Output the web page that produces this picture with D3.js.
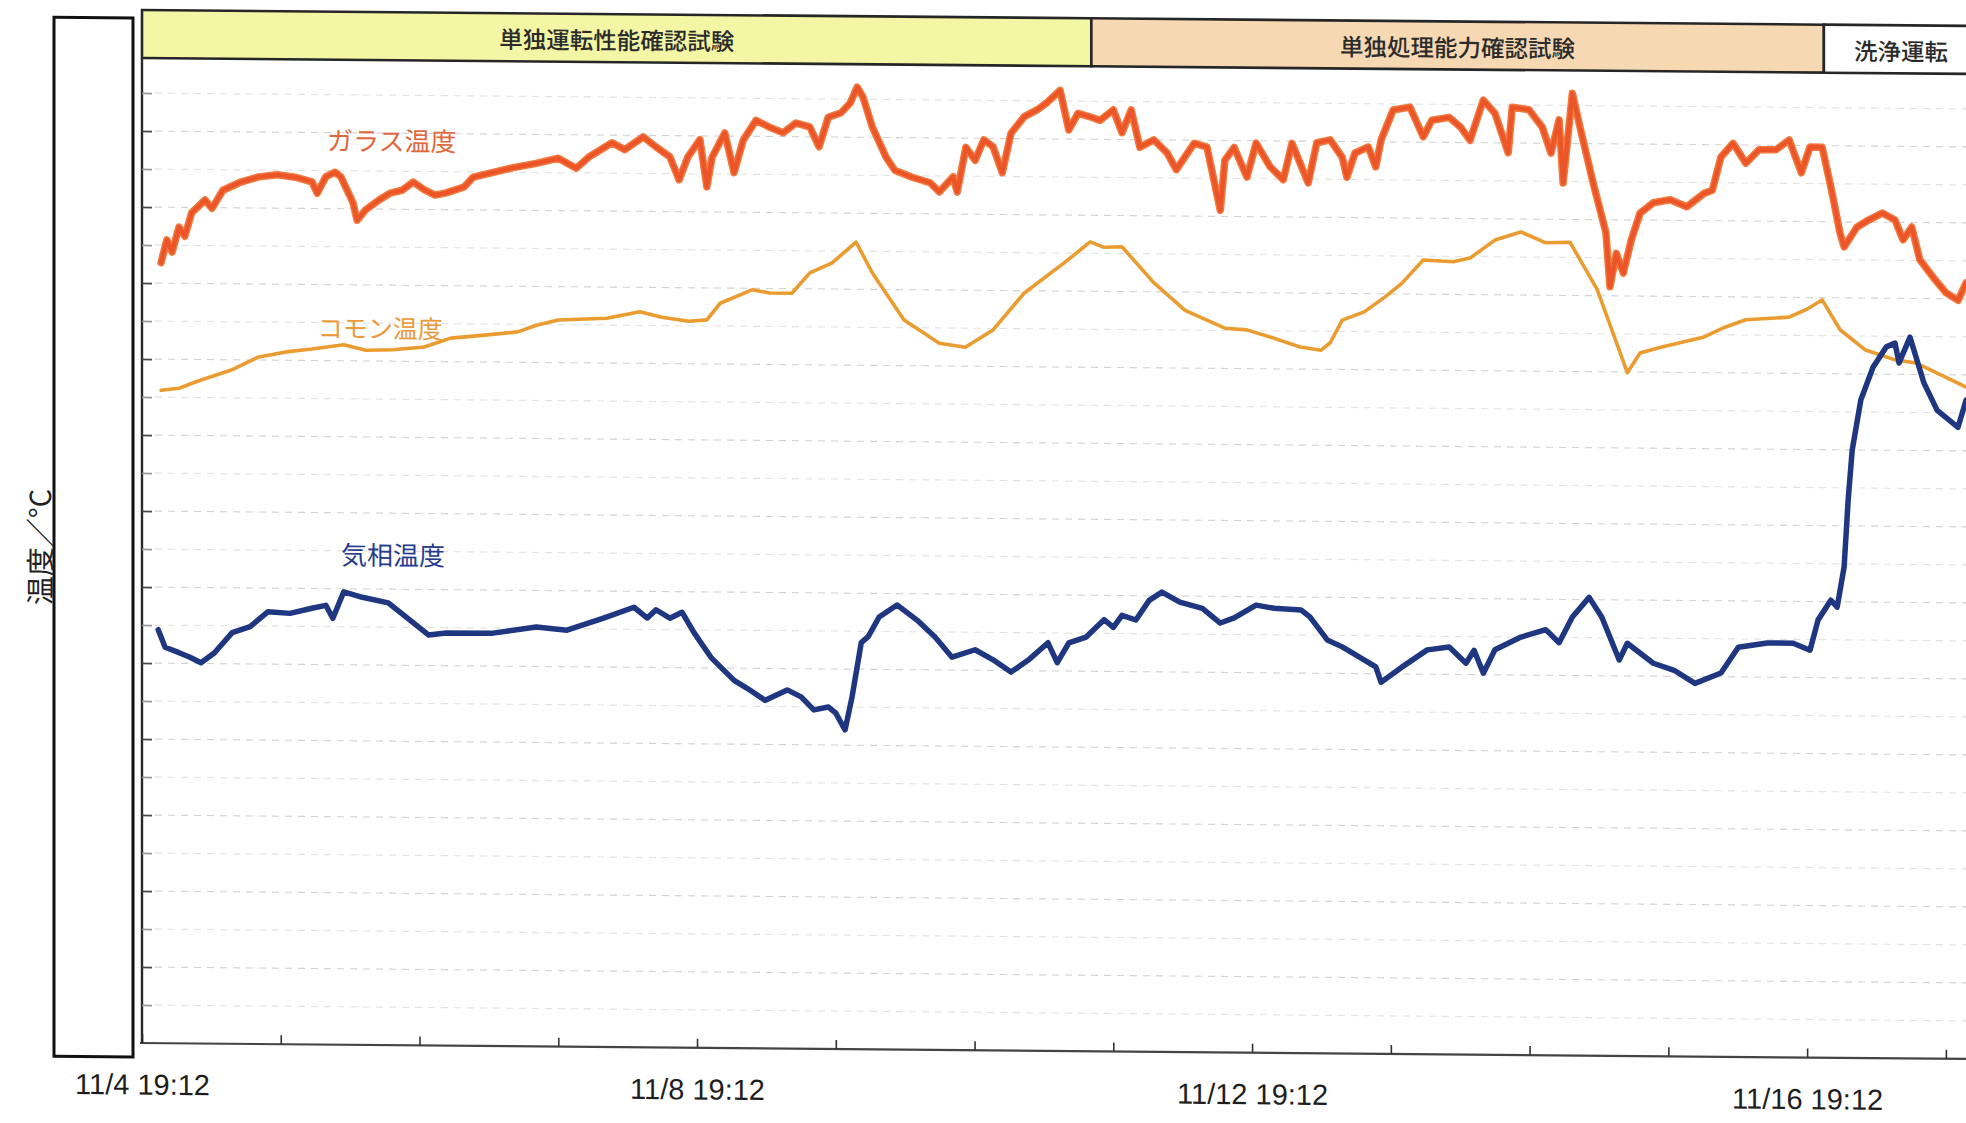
<!DOCTYPE html>
<html>
<head>
<meta charset="utf-8">
<script src="https://cdn.jsdelivr.net/npm/d3@7"></script>
<style>
  html, body { margin: 0; padding: 0; background: #fff; }
  svg { display: block; }
</style>
</head>
<body>
<svg id="chart" width="1966" height="1123"></svg>
<script>
// ---- data: [hours since 11/4 19:12, °C] ----
const glassSeries = [
  [3.3,1027],[4.3,1057],[5.2,1041],[6.4,1074],[7.4,1062],[8.6,1093],[10.9,1110],[12.1,1099],
  [14.0,1123],[17.1,1134],[20.2,1141],[23.4,1144],[26.5,1141],[29.4,1135],[30.3,1120],[31.8,1142],
  [33.4,1148],[34.4,1142],[36.5,1108],[37.2,1085],[38.7,1099],[41.0,1112],[42.9,1121],[45.0,1125],
  [46.9,1136],[48.8,1126],[50.7,1119],[52.6,1122],[55.7,1130],[57.3,1143],[60.4,1149],[64.2,1156],
  [68.2,1162],[72.0,1169],[75.1,1156],[77.3,1171],[81.3,1190],[83.5,1181],[86.7,1198],[88.9,1185],
  [91.3,1172],[92.9,1142],[94.4,1172],[96.5,1195],[97.7,1133],[98.6,1172],[100.8,1204],[102.4,1152],
  [104.0,1195],[106.2,1221],[108.6,1212],[110.9,1205],[113.1,1218],[115.5,1213],[117.1,1187],[118.7,1226],
  [120.9,1232],[122.5,1245],[123.7,1266],[124.7,1253],[126.3,1214],[128.7,1174],[130.2,1157],[133.2,1148],
  [136.3,1141],[137.9,1129],[140.3,1149],[141.0,1129],[142.5,1188],[144.1,1171],[145.6,1198],[147.2,1189],
  [148.8,1155],[150.3,1207],[152.6,1229],[154.8,1238],[156.4,1247],[158.8,1264],[160.3,1212],[161.9,1234],
  [164.2,1229],[165.7,1225],[168.0,1239],[169.5,1209],[171.1,1239],[172.6,1190],[175.0,1200],[177.3,1183],
  [178.9,1161],[180.4,1178],[182.0,1196],[184.2,1191],[186.5,1108],[187.3,1174],[188.9,1191],[191.1,1152],
  [192.7,1197],[195.1,1166],[197.4,1149],[198.9,1197],[200.3,1171],[201.7,1145],[203.2,1198],[205.5,1202],
  [207.6,1179],[208.4,1153],[209.8,1185],[212.1,1193],[213.4,1167],[214.3,1202],[216.4,1242],[219.3,1246],
  [221.6,1207],[223.1,1229],[226.1,1233],[228.1,1220],[229.7,1203],[232.0,1256],[234.0,1239],[236.3,1187],
  [237.0,1247],[239.9,1244],[242.2,1221],[243.7,1187],[245.1,1231],[245.8,1148],[247.4,1266],[248.7,1222],
  [251.0,1148],[253.2,1083],[253.9,1012],[255.0,1056],[256.2,1030],[257.6,1074],[259.1,1109],[261.4,1123],
  [264.3,1127],[267.2,1118],[270.2,1136],[271.6,1140],[273.1,1184],[275.2,1202],[277.4,1176],[279.7,1194],
  [282.6,1194],[284.9,1207],[287.0,1164],[288.5,1198],[290.6,1198],[292.1,1146],[293.7,1085],[294.4,1067],
  [296.6,1093],[298.7,1103],[301.0,1112],[303.2,1103],[304.6,1077],[306.1,1094],[307.5,1051],[309.8,1028],
  [312.0,1008],[314.1,998],[315.5,1021]
];

const commonSeries = [
  [3.3,859],[6.4,862],[10.2,873],[15.6,887],[20.2,904],[24.9,911],[29.4,915],[34.9,921],
  [38.7,914],[43.4,915],[48.8,919],[53.4,931],[58.8,935],[65.0,940],[68.2,949],[72.0,956],
  [80.4,959],[86.1,968],[89.9,961],[94.6,956],[97.7,958],[100.0,980],[105.5,998],[108.6,994],
  [112.4,994],[115.5,1021],[119.3,1034],[123.5,1062],[126.3,1022],[131.8,960],[137.9,930],[142.4,925],
  [147.2,948],[152.6,997],[159.5,1037],[164.0,1065],[166.4,1058],[169.5,1059],[175.0,1012],[180.4,976],
  [187.3,953],[191.1,951],[195.1,942],[200.3,929],[203.9,925],[205.5,935],[207.6,965],[211.4,976],
  [215.0,996],[217.9,1014],[221.6,1045],[226.8,1043],[229.7,1048],[234.0,1072],[238.5,1083],[242.8,1069],
  [247.0,1070],[251.7,1008],[256.9,899],[259.1,925],[262.7,933],[270.2,947],[273.8,960],[277.4,970],
  [284.9,974],[287.8,984],[290.6,997],[293.7,958],[298.0,932],[303.2,919],[306.9,915],[310.5,902],
  [315.5,884]
];

const gasSeries = [
  [2.8,544],[4.0,521],[6.4,514],[8.3,508],[10.2,501],[12.5,514],[15.6,541],[18.7,549],
  [21.8,569],[25.6,567],[29.4,574],[31.8,578],[33.0,561],[34.9,596],[38.1,589],[42.6,582],
  [49.6,540],[52.6,543],[60.4,543],[68.2,552],[73.5,548],[79.7,564],[85.1,579],[87.4,565],
  [88.9,576],[91.3,565],[93.4,573],[95.5,546],[98.4,514],[102.4,484],[104.6,474],[107.8,458],
  [111.6,472],[114.0,463],[116.2,446],[118.7,450],[120.0,442],[121.6,420],[122.8,463],[124.4,535],
  [125.6,543],[127.5,569],[130.6,585],[134.1,565],[137.2,543],[140.1,517],[144.1,527],[147.2,514],
  [150.3,498],[153.3,514],[156.7,537],[158.3,511],[160.3,537],[163.3,545],[166.4,568],[168.0,558],
  [169.5,574],[171.9,568],[174.2,594],[176.4,605],[179.5,592],[183.4,584],[186.5,565],[188.9,572],
  [192.7,589],[195.8,585],[200.5,583],[202.0,574],[205.0,544],[207.6,535],[213.4,509],[214.3,489],
  [217.9,509],[222.3,532],[226.1,536],[229.0,515],[230.4,532],[232.0,502],[234.0,533],[238.5,550],
  [242.8,560],[245.1,543],[247.4,577],[250.3,603],[252.5,577],[255.5,521],[256.9,543],[261.4,517],
  [265.0,508],[268.6,491],[273.1,505],[276.1,539],[281.1,545],[285.6,545],[288.5,536],[289.9,576],
  [292.1,602],[293.2,593],[294.4,646],[295.1,734],[295.8,800],[297.3,866],[299.4,909],[301.7,936],
  [303.2,941],[303.9,915],[305.8,949],[308.2,889],[310.5,853],[314.1,831],[315.5,867]
];

// operation phases shown in the header band (start hour of each, last end hour)
const phaseNames  = ["単独運転性能確認試験", "単独処理能力確認試験", "洗浄運転"];
const phaseStarts = [0, 164.2, 290.9];
const phaseEnd    = 317.6;
const phaseFills  = ["#f3f6a4", "#f6d8b3", "#ffffff"];

// series labels
const seriesNames  = ["ガラス温度", "コモン温度", "気相温度"];
const seriesColors = ["#ec5528", "#eb9c30", "#1f3680"];
const labelAnchors = [[43.2, 1192], [41.2, 945], [43.4, 647]];

const dayTickCount = 14;        // daily ticks from 11/4 19:12
const labelEvery   = 4;         // date label every 4 days
const tempStep     = 50;        // gridline spacing, °C

// ---- scales ----
const HOUR  = 3600e3;
const START = new Date(2015, 10, 4, 19, 12);
const atHour = h => new Date(+START + h * HOUR);

const left = 142, bottom = 1043, headTop = 10, headBottom = 58;
const x = d3.scaleTime().domain([START, atHour(316)]).range([left, 1969]);
const y = d3.scaleLinear().domain([0, 1300]).range([bottom, 55]);

const svg = d3.select("#chart");
// the printed sheet sits a little askew: skew everything about the axis origin
const root = svg.append("g")
  .attr("transform", `translate(${left},${bottom}) skewY(0.5) translate(${-left},${-bottom})`);

// ---- gridlines ----
const gridVals = d3.range(tempStep, 1300, tempStep);
root.append("g").selectAll("line").data(gridVals).join("line")
  .attr("x1", left).attr("x2", 1969)
  .attr("y1", d => y(d)).attr("y2", d => y(d))
  .attr("stroke", d => d % 100 === 0 ? "#d2d2d2" : "#e2e2e2").attr("stroke-width", 1.1)
  .attr("stroke-dasharray", "7 6");

// ---- axes ----
const dayTicks = d3.range(dayTickCount).map(k => atHour(k * 24));
const fmt = d3.timeFormat("%-m/%-d %H:%M");
const xAxis = d3.axisBottom(x)
  .tickValues(dayTicks)
  .tickFormat((d, i) => i % labelEvery === 0 ? fmt(d) : "")
  .tickSizeInner(-9).tickSizeOuter(0).tickPadding(31);
const gx = root.append("g").attr("transform", `translate(0,${bottom})`).call(xAxis);
gx.select(".domain").attr("stroke", "#444").attr("stroke-width", 2.2).attr("d", `M${left - 2},0H1969`);
gx.selectAll(".tick line").attr("stroke", "#333").attr("stroke-width", 1.6);
gx.selectAll(".tick text")
  .attr("font-family", "'Liberation Sans', Arial, sans-serif")
  .attr("font-size", 29).attr("fill", "#1e1e1e");

const yAxis = d3.axisLeft(y).tickValues(gridVals).tickFormat("")
  .tickSizeInner(-10).tickSizeOuter(0);
const gy = root.append("g").attr("transform", `translate(${left},0)`).call(yAxis);
gy.select(".domain").attr("stroke", "#2a2a2a").attr("stroke-width", 2.4)
  .attr("d", `M0,${headBottom}V${bottom}`);
gy.selectAll(".tick line")
  .attr("stroke", d => d % 100 === 0 ? "#444" : "#999").attr("stroke-width", 1.6);

// ---- series lines ----
const line = d3.line().x(d => x(atHour(d[0]))).y(d => y(d[1]));
const lines = root.append("g").attr("fill", "none")
  .attr("stroke-linejoin", "round").attr("stroke-linecap", "round");
lines.append("path").datum(commonSeries).attr("d", line)
  .attr("stroke", seriesColors[1]).attr("stroke-width", 3.6);
lines.append("path").datum(glassSeries).attr("d", line)
  .attr("stroke", "#f07a40").attr("stroke-width", 7.5);
lines.append("path").datum(glassSeries).attr("d", line)
  .attr("stroke", seriesColors[0]).attr("stroke-width", 4.5);
lines.append("path").datum(gasSeries).attr("d", line)
  .attr("stroke", seriesColors[2]).attr("stroke-width", 5.5);

// ---- series labels ----
const labelFill = ["#e0683c", "#e99a3c", "#263d8c"];
const labelSize = [26, 25, 26];
root.append("g").selectAll("text").data(seriesNames).join("text")
  .attr("x", (d, i) => x(atHour(labelAnchors[i][0])))
  .attr("y", (d, i) => y(labelAnchors[i][1]))
  .attr("text-anchor", "middle").attr("dominant-baseline", "central")
  .attr("font-family", "'Noto Sans CJK JP', sans-serif")
  .attr("font-size", (d, i) => labelSize[i])
  .attr("fill", (d, i) => labelFill[i])
  .text(d => d);

// ---- header band with the test phases ----
const head = root.append("g");
const phaseEnds = phaseStarts.slice(1).concat([phaseEnd]);
head.selectAll("rect").data(phaseNames).join("rect")
  .attr("x", (d, i) => x(atHour(phaseStarts[i])))
  .attr("y", headTop)
  .attr("width", (d, i) => x(atHour(phaseEnds[i])) - x(atHour(phaseStarts[i])))
  .attr("height", headBottom - headTop)
  .attr("fill", (d, i) => phaseFills[i])
  .attr("stroke", "#262626").attr("stroke-width", 2.6);
head.selectAll("text").data(phaseNames).join("text")
  .attr("x", (d, i) => (x(atHour(phaseStarts[i])) + x(atHour(phaseEnds[i]))) / 2)
  .attr("y", (headTop + headBottom) / 2 + 1)
  .attr("text-anchor", "middle").attr("dominant-baseline", "central")
  .attr("font-family", "'Noto Sans CJK JP', sans-serif")
  .attr("font-size", 23.5).attr("font-weight", 500).attr("fill", "#2b2b2b")
  .text(d => d);

// ---- y-axis title panel ----
root.append("rect")
  .attr("x", 54).attr("y", 18).attr("width", 79).attr("height", 1039)
  .attr("fill", "#fff").attr("stroke", "#111").attr("stroke-width", 3);
root.append("text")
  .attr("transform", "translate(38,548) rotate(-90)")
  .attr("text-anchor", "middle").attr("dominant-baseline", "central")
  .attr("font-family", "'Noto Sans CJK JP', sans-serif")
  .attr("font-size", 29).attr("fill", "#222")
  .text("温度／°C");
</script>
</body>
</html>
